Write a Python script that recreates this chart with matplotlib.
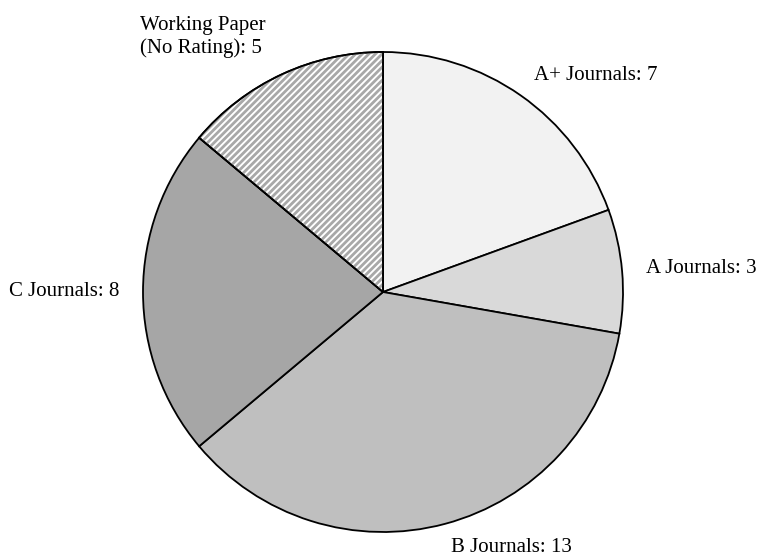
import matplotlib.pyplot as plt
from matplotlib.patches import Wedge
import numpy as np

plt.rcParams['font.family'] = ['Liberation Serif', 'DejaVu Serif']

labels = ["A+ Journals", "A Journals", "B Journals", "C Journals", "Working Paper\n(No Rating)"]
counts = [7, 3, 13, 8, 5]
colors = ["#f2f2f2", "#d9d9d9", "#bfbfbf", "#a6a6a6", "white"]

W, H = 757, 556
fig = plt.figure(figsize=(W / 100, H / 100), dpi=100)
ax = fig.add_axes([0, 0, 1, 1])

cx, cy, r = 383, H - 292, 240
texts_lab = ["%s: %d" % (l, c) for l, c in zip(labels, counts)]
wedges, texts = ax.pie(counts, labels=texts_lab, colors=colors, startangle=90,
                       counterclock=False, center=(cx, cy), radius=r,
                       labeldistance=1.1, frame=True,
                       wedgeprops=dict(edgecolor="black", linewidth=1.3),
                       textprops=dict(fontsize=15, color="black"))
ax.set_xlim(0, W)
ax.set_ylim(0, H)
ax.set_aspect("equal")
ax.axis("off")

# left-hand labels end at the label point
for t in texts:
    x, y = t.get_position()
    t.set_ha("right" if x < cx else "left")

# working paper label sits above-left, left aligned
wp = texts[4]
wp.set_position((140, H - 37))
wp.set_ha("left")
wp.set_multialignment("left")
wp.set_linespacing(1.25)

# diagonal stripes for the unrated slice
wedge = wedges[4]
ang = np.deg2rad(45)
step = 6.6
for x0 in np.arange(cx - 2 * r, cx + 2 * r, step):
    xs = np.array([x0, x0 + 2 * r * np.cos(ang)])
    ys = np.array([cy - 10, cy - 10 + 2 * r * np.sin(ang)])
    ln, = ax.plot(xs, ys, color="#a8a8a8", lw=2.0, zorder=wedge.get_zorder() + 0.1)
    ln.set_clip_path(wedge)
ax.add_patch(Wedge((cx, cy), r, wedge.theta1, wedge.theta2,
                   facecolor="none", edgecolor="black", linewidth=1.3, zorder=5))

fig.savefig("out.png", dpi=100)
